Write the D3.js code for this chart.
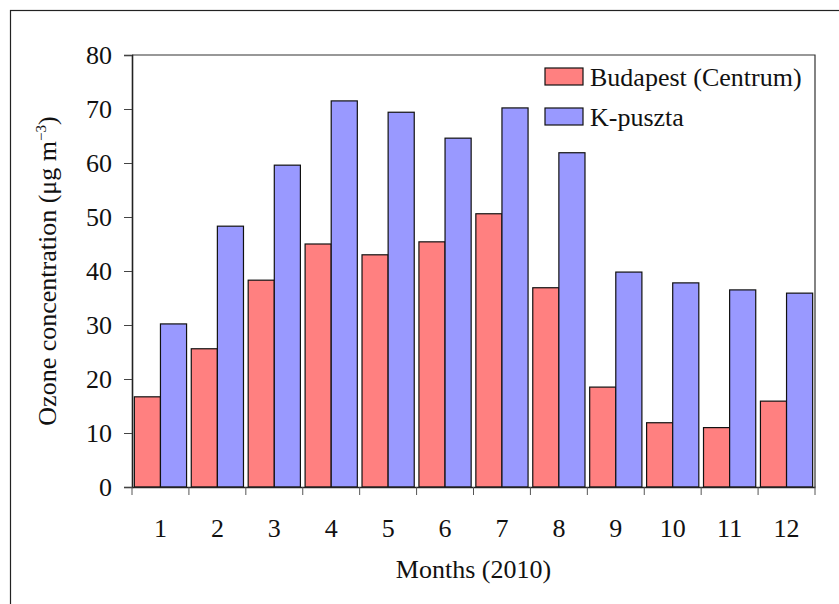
<!DOCTYPE html>
<html>
<head>
<script src="https://d3js.org/d3.v7.min.js"></script>
<style>
  body { margin: 0; background: #fff; }
  text { font-family: "Liberation Serif", "Times New Roman", serif; fill: #111; }
</style>
</head>
<body>
<div id="chart"></div>
<script>
// data
const months = ["1", "2", "3", "4", "5", "6", "7", "8", "9", "10", "11", "12"];
const seriesNames = ["Budapest (Centrum)", "K-puszta"];
const budapest = [16.7, 25.6, 38.3, 45.0, 43.0, 45.4, 50.6, 36.9, 18.5, 11.9, 11.0, 15.9];
const kpuszta = [30.2, 48.3, 59.6, 71.5, 69.4, 64.6, 70.2, 61.9, 39.8, 37.8, 36.5, 35.9];
const yTicks = [0, 10, 20, 30, 40, 50, 60, 70, 80];
const colors = ["#ff8080", "#9999ff"];

const width = 839, height = 604;
const margin = { top: 55, right: 24, bottom: 117, left: 132 };
const fs = 26;

const svg = d3.select("#chart").append("svg")
  .attr("width", width)
  .attr("height", height);

// outer frame (right and bottom edges fall outside the picture)
svg.append("rect")
  .attr("x", 10.5).attr("y", 10.5)
  .attr("width", 840).attr("height", 600)
  .attr("fill", "none").attr("stroke", "#222").attr("stroke-width", 1.2);

const x0 = d3.scaleBand()
  .domain(months)
  .range([margin.left, width - margin.right]);

const x1 = d3.scaleBand()
  .domain(seriesNames)
  .range([0, x0.bandwidth()])
  .paddingOuter(0.09);

const y = d3.scaleLinear()
  .domain([0, 80])
  .range([height - margin.bottom, margin.top]);

const rows = months.map((m, i) => ({ month: m, values: [budapest[i], kpuszta[i]] }));

// plot border top and right
svg.append("path")
  .attr("d", `M${margin.left},${y(80)}H${width - margin.right}V${y(0)}`)
  .attr("fill", "none").attr("stroke", "#333").attr("stroke-width", 1.2);

// bars
const groups = svg.selectAll("g.month")
  .data(rows)
  .join("g")
  .attr("class", "month")
  .attr("transform", d => `translate(${x0(d.month)},0)`);

groups.selectAll("rect")
  .data(d => d.values.map((v, k) => ({ name: seriesNames[k], value: v, k })))
  .join("rect")
  .attr("x", d => x1(d.name))
  .attr("y", d => y(d.value))
  .attr("width", x1.bandwidth())
  .attr("height", d => y(0) - y(d.value))
  .attr("fill", d => colors[d.k])
  .attr("stroke", "#111")
  .attr("stroke-width", 1.2);

// y axis
const yAxis = svg.append("g")
  .attr("transform", `translate(${margin.left},0)`)
  .call(d3.axisLeft(y).tickValues(yTicks).tickSize(8).tickPadding(12));
yAxis.select(".domain").attr("stroke", "#222").attr("stroke-width", 1.6);
yAxis.selectAll(".tick line").attr("stroke", "#444");
yAxis.selectAll("text").attr("font-size", fs).attr("fill", "#111");

// x axis: ticks at category boundaries, labels at centers
const xAxis = svg.append("g")
  .attr("transform", `translate(0,${y(0)})`)
  .call(d3.axisBottom(x0).tickSize(0).tickPadding(32));
xAxis.select(".domain").attr("stroke", "#222").attr("stroke-width", 1.6);
xAxis.selectAll("text").attr("font-size", fs).attr("fill", "#111");

const bounds = months.map(m => x0(m)).concat([x0.range()[1]]);
xAxis.selectAll("line.bound")
  .data(bounds)
  .join("line")
  .attr("class", "bound")
  .attr("x1", d => d).attr("x2", d => d)
  .attr("y1", 0).attr("y2", 8)
  .attr("stroke", "#555");

// axis titles
svg.append("text")
  .attr("x", (margin.left + width - margin.right) / 2)
  .attr("y", 578)
  .attr("text-anchor", "middle")
  .attr("font-size", fs)
  .text("Months (2010)");

const yTitle = svg.append("text")
  .attr("transform", `translate(56,${(y(0) + y(80)) / 2}) rotate(-90)`)
  .attr("text-anchor", "middle")
  .attr("font-size", fs);
yTitle.append("tspan").text("Ozone concentration (μg m");
yTitle.append("tspan").attr("font-size", 15).attr("dy", -10).text("−3");
yTitle.append("tspan").attr("dy", 10).text(")");

// legend
const legend = svg.append("g").attr("transform", "translate(545,68)");
seriesNames.forEach((name, k) => {
  const g = legend.append("g").attr("transform", `translate(0,${k * 40})`);
  g.append("rect")
    .attr("width", 38).attr("height", 17)
    .attr("fill", colors[k]).attr("stroke", "#111").attr("stroke-width", 1.2);
  g.append("text")
    .attr("x", 45).attr("y", 18)
    .attr("font-size", fs)
    .text(name);
});
</script>
</body>
</html>
